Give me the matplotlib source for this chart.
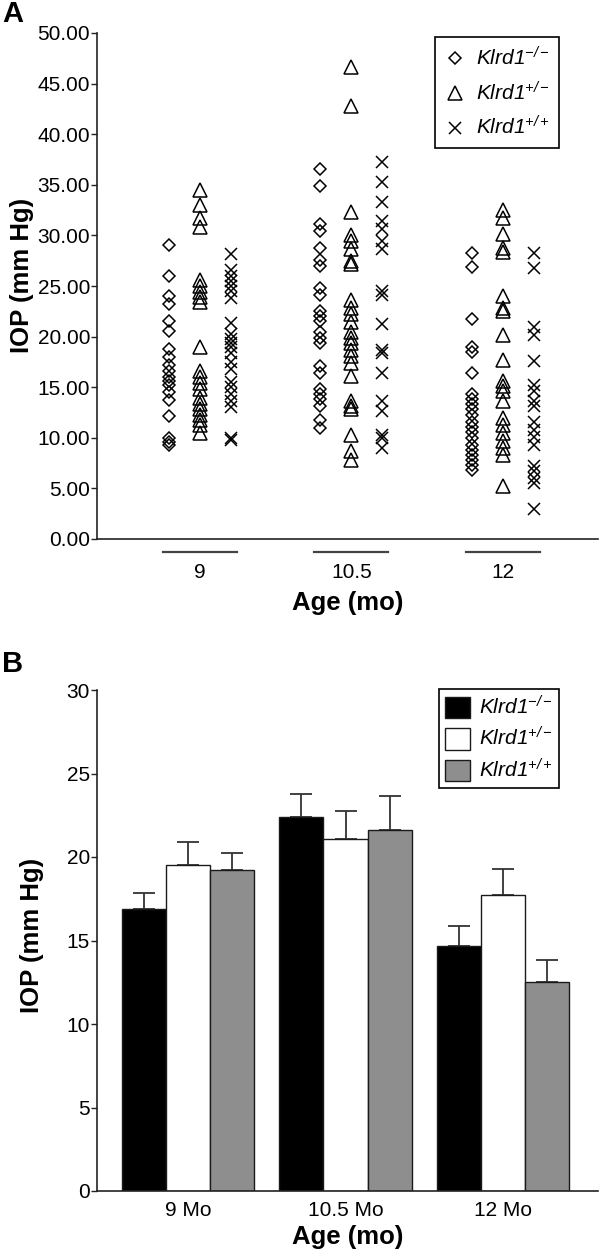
import matplotlib
matplotlib.use("Agg")
import matplotlib.pyplot as plt
from matplotlib.patches import Patch
import matplotlib.transforms as mtransforms

plt.rcParams['font.family'] = ['Liberation Sans', 'DejaVu Sans']
plt.rcParams['mathtext.fontset'] = 'custom'
# everything inside $...$ is italic, as in the legend labels of the original
plt.rcParams['mathtext.rm'] = 'Liberation Sans:italic'
plt.rcParams['mathtext.it'] = 'Liberation Sans:italic'

# ---- data ----
ages = ['9', '10.5', '12']
bar_ages = ['9 Mo', '10.5 Mo', '12 Mo']
genotypes = [r'$Klrd1^{-/-}$', r'$Klrd1^{+/-}$', r'$Klrd1^{+/+}$']

# panel A: individual IOP values (mm Hg), one list per age
ko_9 = [29.1, 26.0, 24.0, 23.2, 21.5, 20.6, 18.8, 18.0, 17.2, 16.6, 16.0,
        15.6, 15.2, 14.5, 13.7, 12.2, 10.0, 9.6, 9.3]
het_9 = [34.5, 33.0, 31.7, 30.8, 25.6, 25.0, 24.4, 23.9, 23.4, 19.0, 16.6,
         16.0, 15.4, 14.8, 13.9, 13.3, 12.8, 12.3, 11.8, 11.3, 10.5]
wt_9 = [28.2, 26.6, 26.0, 25.5, 25.0, 24.5, 23.8, 21.3, 20.3, 19.8, 19.4,
        19.0, 18.4, 17.5, 16.8, 15.5, 15.0, 14.3, 13.6, 13.0, 10.0, 9.8]

ko_105 = [36.6, 34.9, 31.1, 30.4, 28.8, 27.6, 27.0, 24.8, 24.1, 22.5, 22.0,
          21.5, 20.5, 19.9, 19.4, 17.1, 16.4, 14.8, 14.3, 13.8, 13.1, 11.8, 11.0]
het_105 = [46.6, 42.8, 32.3, 30.0, 29.4, 28.7, 27.5, 27.2, 23.6, 22.8, 22.2,
           21.4, 20.5, 19.9, 19.4, 18.7, 18.1, 17.4, 16.1, 13.6, 13.1, 12.8,
           10.3, 8.7, 7.8]
wt_105 = [37.3, 35.3, 33.3, 31.4, 30.6, 29.4, 28.7, 24.5, 24.1, 21.2, 18.7,
          18.4, 16.4, 13.6, 12.6, 10.3, 10.0, 9.0]

ko_12 = [28.3, 26.9, 21.7, 19.0, 18.5, 16.4, 14.3, 13.8, 13.3, 12.8, 12.3,
         11.6, 11.1, 10.6, 10.0, 9.3, 8.8, 8.3, 7.8, 7.3, 6.8]
het_12 = [32.5, 31.7, 30.1, 28.8, 28.4, 24.0, 22.8, 22.5, 20.2, 17.7, 15.6,
          15.1, 14.6, 13.6, 12.0, 11.3, 10.5, 9.7, 9.0, 8.3, 5.2]
wt_12 = [28.3, 26.8, 20.9, 20.2, 17.6, 15.2, 14.6, 13.6, 13.1, 11.6, 10.8,
         10.1, 9.3, 7.2, 6.7, 6.0, 5.5, 3.0]

scatter_groups = [
    [ko_9, het_9, wt_9],
    [ko_105, het_105, wt_105],
    [ko_12, het_12, wt_12],
]

# panel B: mean and SEM
ko_mean = [16.9, 22.4, 14.7]
ko_sem = [0.95, 1.38, 1.14]
het_mean = [19.5, 21.1, 17.7]
het_sem = [1.38, 1.68, 1.56]
wt_mean = [19.2, 21.6, 12.5]
wt_sem = [1.02, 2.04, 1.32]

# ---- figure ----
W, H = 600, 1256
fig = plt.figure(figsize=(W / 100, H / 100), dpi=100)


def px_axes(left, top, right, bottom):
    return fig.add_axes([left / W, 1 - bottom / H, (right - left) / W, (bottom - top) / H])


edge = '#222222'

# ---------- panel A ----------
axA = px_axes(97, 33, 598, 539)
markers = [dict(marker='D', ms=6.6), dict(marker='^', ms=9.5), dict(marker='x', ms=9)]
offsets = [-0.205, 0.0, 0.205]
handles = []
for gi, group in enumerate(scatter_groups):
    for k, vals in enumerate(group):
        line, = axA.plot([gi + offsets[k]] * len(vals), vals, linestyle='none',
                         mfc='none', mec='black', mew=1.1, **markers[k])
        if gi == 0:
            handles.append(line)

axA.set_xlim(-0.68, 2.63)
axA.set_ylim(0, 50)
axA.set_yticks(range(0, 51, 5))
axA.set_yticklabels([f'{v:.2f}' for v in range(0, 51, 5)])
axA.set_xticks(range(3))
axA.set_xticklabels(ages)
axA.tick_params(axis='x', length=0, pad=17, labelsize=15)
axA.tick_params(axis='y', length=4, width=1, direction='out', labelsize=15, pad=1, color=edge)
for s in ['top', 'right']:
    axA.spines[s].set_visible(False)
for s in ['left', 'bottom']:
    axA.spines[s].set_linewidth(1.2)
    axA.spines[s].set_color(edge)

trans = mtransforms.blended_transform_factory(axA.transData, axA.transAxes)
for gi in range(3):
    axA.plot([gi - 0.245, gi + 0.245], [-0.026, -0.026], transform=trans,
             color='#444444', lw=1.6, clip_on=False)

axA.set_xlabel('Age (mo)', fontsize=18.5, fontweight='bold', labelpad=7)

legA = axA.legend(handles, genotypes, loc='upper right', bbox_to_anchor=(0.922, 0.992),
                  frameon=True, fancybox=False, edgecolor='black', framealpha=1,
                  fontsize=15, handlelength=1.0, handletextpad=0.5, borderpad=0.45,
                  labelspacing=0.55, borderaxespad=0)
legA.get_frame().set_linewidth(1.2)

fig.text(22 / W, 1 - 275 / H, 'IOP (mm Hg)', rotation=90, fontsize=18.5,
         fontweight='bold', ha='center', va='center')
fig.text(2 / W, 1 - 14 / H, 'A', fontsize=21, fontweight='bold', ha='left', va='center')

# ---------- panel B ----------
axB = px_axes(97, 690, 598, 1191)
width = 0.28
xs = range(3)
series = [(ko_mean, ko_sem, 'black'), (het_mean, het_sem, 'white'), (wt_mean, wt_sem, '#8e8e8e')]
bar_handles = []
for k, (means, sems, color) in enumerate(series):
    pos = [x + (k - 1) * width for x in xs]
    axB.bar(pos, means, width=width, color=color, edgecolor='#1a1a1a', linewidth=1.0, zorder=2)
    axB.errorbar(pos, means, yerr=[[0] * 3, sems], fmt='none', ecolor='#333333',
                 elinewidth=1.3, capsize=7.8, capthick=1.3, zorder=1)
    bar_handles.append(Patch(facecolor=color, edgecolor='#1a1a1a', linewidth=1.0))

axB.set_xlim(-0.578, 2.603)
axB.set_ylim(0, 30)
axB.set_yticks(range(0, 31, 5))
axB.set_xticks(list(xs))
axB.set_xticklabels(bar_ages)
axB.tick_params(axis='x', length=0, pad=7, labelsize=15)
axB.tick_params(axis='y', length=4, width=1, direction='out', labelsize=15, pad=1, color=edge)
for s in ['top', 'right']:
    axB.spines[s].set_visible(False)
for s in ['left', 'bottom']:
    axB.spines[s].set_linewidth(1.2)
    axB.spines[s].set_color(edge)
axB.set_xlabel('Age (mo)', fontsize=18.5, fontweight='bold', labelpad=4)

legB = axB.legend(bar_handles, genotypes, loc='upper right', bbox_to_anchor=(0.922, 1.002),
                  frameon=True, fancybox=False, edgecolor='black', framealpha=1,
                  fontsize=15, handlelength=1.2, handleheight=1.2, handletextpad=0.4,
                  borderpad=0.3, labelspacing=0.4, borderaxespad=0)
legB.get_frame().set_linewidth(1.2)

fig.text(32 / W, 1 - 935 / H, 'IOP (mm Hg)', rotation=90, fontsize=18.5,
         fontweight='bold', ha='center', va='center')
fig.text(2 / W, 1 - 664 / H, 'B', fontsize=21, fontweight='bold', ha='left', va='center')

fig.savefig('out.png', dpi=100)
